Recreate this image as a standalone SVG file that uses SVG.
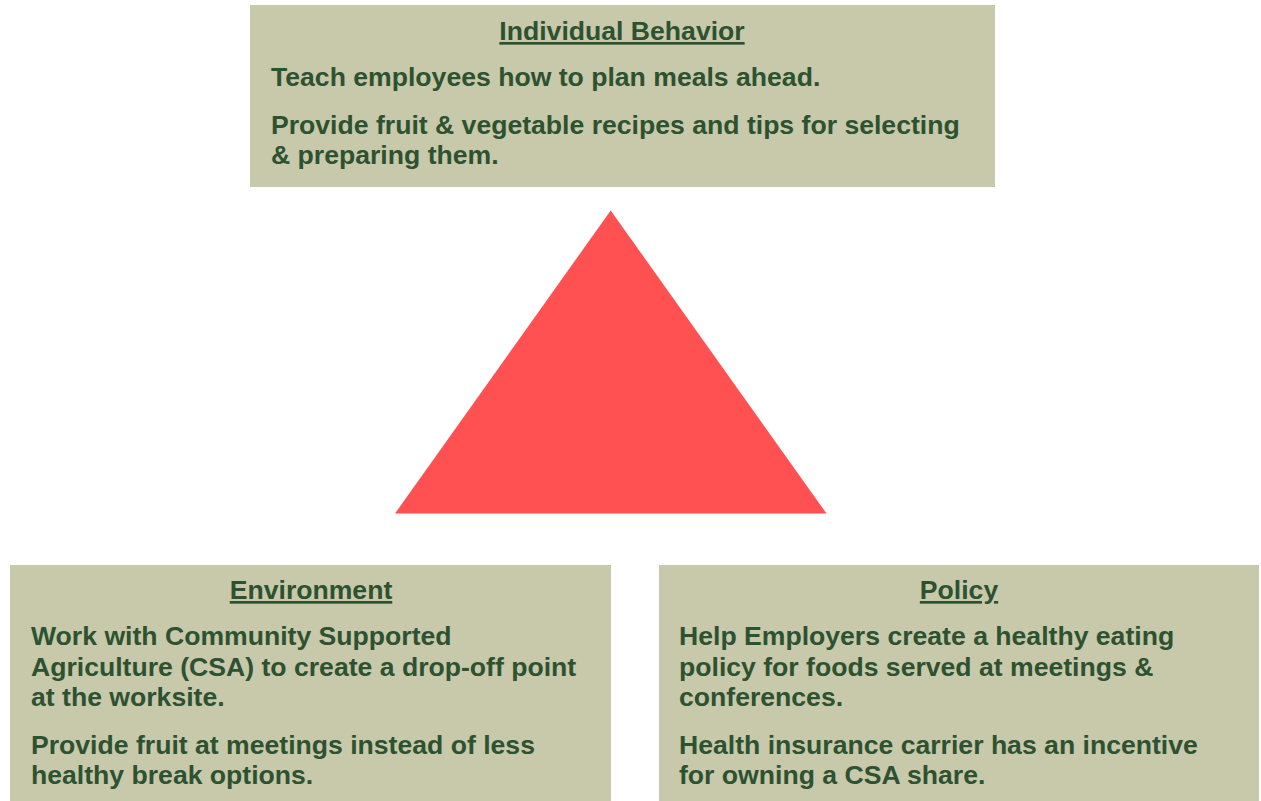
<svg xmlns="http://www.w3.org/2000/svg" width="1261" height="801" viewBox="0 0 1261 801">
<style>
.box{fill:#C8C8AA}
.t{font-family:"Liberation Sans",Arial,sans-serif;font-weight:bold;font-size:26.6px;fill:#2D5232}
.h{text-anchor:middle;text-decoration:underline}
</style>
<rect width="1261" height="801" fill="#FFFFFF"/>
<g id="triangle">
<polygon points="610.7,210.5 395,513.5 826.5,513.5" fill="#FF5151"/>
</g>
<g id="connectors"></g>
<g id="individual-behavior">
<rect class="box" x="250" y="5" width="745" height="182"/>
<text class="t h" x="622" y="40">Individual Behavior</text>
<text class="t" x="271" y="86">Teach employees how to plan meals ahead.</text>
<text class="t" x="271" y="134">Provide fruit &amp; vegetable recipes and tips for selecting</text>
<text class="t" x="271" y="164">&amp; preparing them.</text>
</g>
<g id="environment">
<rect class="box" x="10" y="565" width="601" height="236"/>
<text class="t h" x="311" y="599">Environment</text>
<text class="t" x="31" y="645">Work with Community Supported</text>
<text class="t" x="31" y="676">Agriculture (CSA) to create a drop-off point</text>
<text class="t" x="31" y="706">at the worksite.</text>
<text class="t" x="31" y="754">Provide fruit at meetings instead of less</text>
<text class="t" x="31" y="784">healthy break options.</text>
</g>
<g id="policy">
<rect class="box" x="659" y="565" width="600" height="236"/>
<text class="t h" x="959" y="599">Policy</text>
<text class="t" x="679" y="645">Help Employers create a healthy eating</text>
<text class="t" x="679" y="676">policy for foods served at meetings &amp;</text>
<text class="t" x="679" y="706">conferences.</text>
<text class="t" x="679" y="754">Health insurance carrier has an incentive</text>
<text class="t" x="679" y="784">for owning a CSA share.</text>
</g>
</svg>
